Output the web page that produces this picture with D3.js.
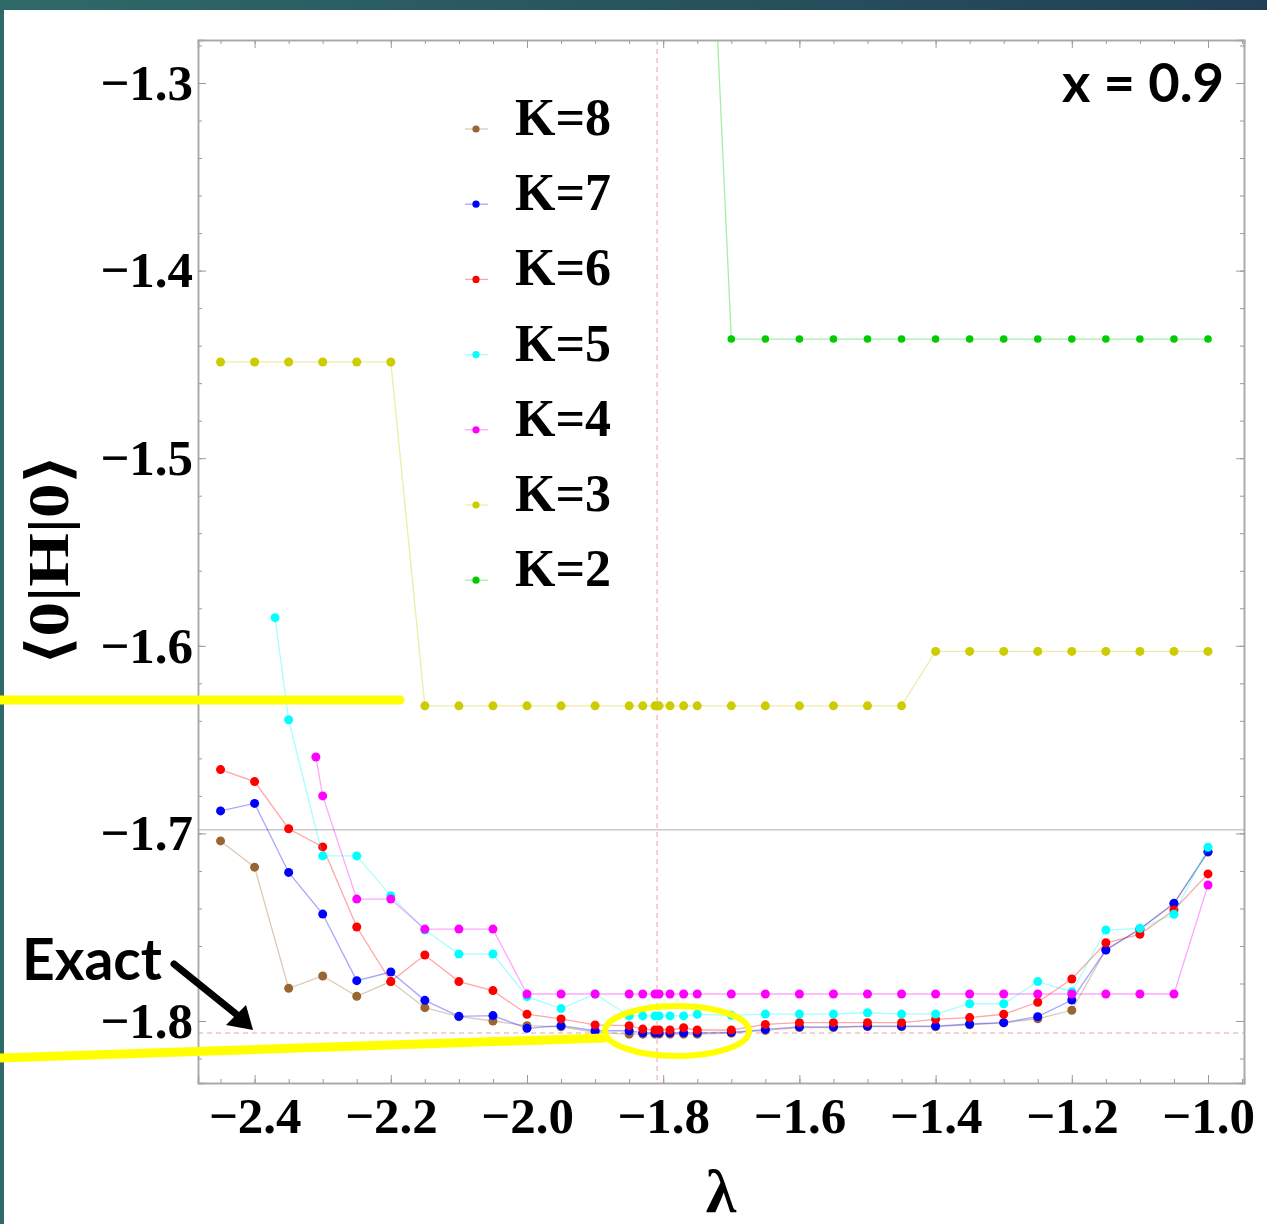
<!DOCTYPE html>
<html>
<head>
<meta charset="utf-8">
<script src="https://cdn.jsdelivr.net/npm/d3@7"></script>
<style>
  html, body { margin: 0; padding: 0; background: #fff; }
  svg { display: block; }
</style>
</head>
<body>
<svg id="chart" width="1267" height="1224"></svg>
<script>
// ---------------- DATA ----------------
const lambdaGrid = [-2.45,-2.40,-2.35,-2.30,-2.25,-2.20,-2.15,-2.10,-2.05,-2.00,-1.95,-1.90,-1.85,-1.83,-1.812,-1.806,-1.79,-1.77,-1.75,-1.70,-1.65,-1.60,-1.55,-1.50,-1.45,-1.40,-1.35,-1.30,-1.25,-1.20,-1.15,-1.10,-1.05,-1.00];

const k8Values = [-1.704,-1.718,-1.7826,-1.776,-1.7868,-1.779,-1.7929,-1.7977,-1.800,-1.8025,-1.8031,-1.806,-1.807,-1.807,-1.807,-1.807,-1.807,-1.807,-1.807,-1.8065,-1.805,-1.8035,-1.8035,-1.803,-1.803,-1.803,-1.802,-1.801,-1.7988,-1.7943,-1.762,-1.751,-1.7375,-1.710];
const k7Values = [-1.688,-1.684,-1.7208,-1.743,-1.7785,-1.7739,-1.789,-1.7975,-1.7971,-1.8039,-1.8025,-1.8052,-1.8052,-1.8063,-1.8063,-1.8063,-1.8063,-1.8063,-1.8063,-1.806,-1.8045,-1.8031,-1.8031,-1.8027,-1.8027,-1.8027,-1.8016,-1.8009,-1.7977,-1.7888,-1.7622,-1.751,-1.7373,-1.7097];
const k6Values = [-1.666,-1.6724,-1.6975,-1.7072,-1.7499,-1.779,-1.7648,-1.779,-1.7838,-1.7964,-1.7989,-1.8021,-1.8025,-1.8043,-1.8048,-1.8048,-1.8048,-1.8036,-1.8048,-1.8048,-1.8018,-1.8009,-1.8009,-1.8009,-1.8009,-1.7991,-1.7982,-1.7964,-1.790,-1.7776,-1.7583,-1.7538,-1.7408,-1.7216];

const k5Lambda = [-2.37,-2.35,-2.30,-2.25,-2.20,-2.15,-2.10,-2.05,-2.00,-1.95,-1.90,-1.85,-1.83,-1.812,-1.806,-1.79,-1.77,-1.75,-1.70,-1.65,-1.60,-1.55,-1.50,-1.45,-1.40,-1.35,-1.30,-1.25,-1.20,-1.15,-1.10,-1.05,-1.00];
const k5Values = [-1.585,-1.6394,-1.712,-1.712,-1.7332,-1.7515,-1.7643,-1.7643,-1.787,-1.7934,-1.7856,-1.7973,-1.7973,-1.7973,-1.7973,-1.7973,-1.7973,-1.7964,-1.797,-1.7963,-1.7963,-1.7963,-1.7956,-1.7963,-1.7963,-1.7908,-1.7908,-1.779,-1.7844,-1.7515,-1.7506,-1.7431,-1.7074];

const k4Lambda = [-2.31,-2.30,-2.25,-2.20,-2.15,-2.10,-2.05,-2.00,-1.95,-1.90,-1.85,-1.83,-1.812,-1.806,-1.79,-1.77,-1.75,-1.70,-1.65,-1.60,-1.55,-1.50,-1.45,-1.40,-1.35,-1.30,-1.25,-1.20,-1.15,-1.10,-1.05,-1.00];
const k4Values = [-1.6593,-1.680,-1.735,-1.735,-1.751,-1.751,-1.751,-1.7856,-1.7856,-1.7856,-1.7856,-1.7856,-1.7856,-1.7856,-1.7856,-1.7856,-1.7856,-1.7856,-1.7856,-1.7856,-1.7856,-1.7856,-1.7856,-1.7856,-1.7856,-1.7856,-1.7856,-1.7856,-1.7856,-1.7856,-1.7856,-1.7275];

const k3Values = [-1.4487,-1.4487,-1.4487,-1.4487,-1.4487,-1.4487,-1.632,-1.632,-1.632,-1.632,-1.632,-1.632,-1.632,-1.632,-1.632,-1.632,-1.632,-1.632,-1.632,-1.632,-1.632,-1.632,-1.632,-1.632,-1.632,-1.603,-1.603,-1.603,-1.603,-1.603,-1.603,-1.603,-1.603,-1.603];

const k2Lambda = [-1.75,-1.70,-1.65,-1.60,-1.55,-1.50,-1.45,-1.40,-1.35,-1.30,-1.25,-1.20,-1.15,-1.10,-1.05,-1.00];
const k2Values = [-1.04,-1.4365,-1.4365,-1.4365,-1.4365,-1.4365,-1.4365,-1.4365,-1.4365,-1.4365,-1.4365,-1.4365,-1.4365,-1.4365,-1.4365,-1.4365];

const seriesNames  = ["K=8","K=7","K=6","K=5","K=4","K=3","K=2"];
const seriesColors = ["#996633","#0000ff","#ff0000","#00ffff","#ff00ff","#cccc00","#00cc00"];

const exactValue = -1.8064;
const criticalLambda = -1.809;
const axisLineValue = -1.698;

const xTickValues = [-2.4,-2.2,-2.0,-1.8,-1.6,-1.4,-1.2,-1.0];
const xTickLabels = ["−2.4","−2.2","−2.0","−1.8","−1.6","−1.4","−1.2","−1.0"];
const yTickValues = [-1.3,-1.4,-1.5,-1.6,-1.7,-1.8];
const yTickLabels = ["−1.3","−1.4","−1.5","−1.6","−1.7","−1.8"];

// ---------------- BUILD ----------------
const series = [
  {lam: lambdaGrid, val: k8Values},
  {lam: lambdaGrid, val: k7Values},
  {lam: lambdaGrid, val: k6Values},
  {lam: k5Lambda,  val: k5Values},
  {lam: k4Lambda,  val: k4Values},
  {lam: lambdaGrid, val: k3Values},
  {lam: k2Lambda,  val: k2Values}
].map((s, i) => ({
  name: seriesNames[i], color: seriesColors[i],
  pts: s.lam.map((l, j) => ({x: l, y: s.val[j]}))
}));

const svg = d3.select("#chart");
const W = 1267, H = 1224;
const L = 198, R = 1244, T = 40, B = 1083;
const serif = "'Liberation Serif', 'Times New Roman', serif";
const sans = "Lato, 'Open Sans', sans-serif";

// background frame gradient
const defs = svg.append("defs");
const grad = defs.append("linearGradient").attr("id","bg").attr("x1","0").attr("x2","1").attr("y1","0").attr("y2","0");
grad.append("stop").attr("offset","0%").attr("stop-color","#2f6a68");
grad.append("stop").attr("offset","100%").attr("stop-color","#213f55");
svg.append("rect").attr("width",W).attr("height",H).attr("fill","url(#bg)");
svg.append("rect").attr("x",4).attr("y",10).attr("width",W-4).attr("height",H-10).attr("fill","#fff");

defs.append("clipPath").attr("id","plotclip").append("rect")
  .attr("x",L).attr("y",T).attr("width",R-L).attr("height",B-T);

const x = d3.scaleLinear().domain([-2.48311, -0.94714]).range([L, R]);
const y = d3.scaleLinear().domain([-1.83305, -1.27708]).range([B, T]);

// reference lines
const plot = svg.append("g").attr("clip-path","url(#plotclip)");
plot.append("line").attr("x1",L).attr("x2",R).attr("y1",y(axisLineValue)).attr("y2",y(axisLineValue))
  .attr("stroke","#c8c8c8").attr("stroke-width",1.5);
plot.append("line").attr("x1",L).attr("x2",R).attr("y1",y(exactValue)).attr("y2",y(exactValue))
  .attr("stroke","#e0a8a8").attr("stroke-width",1).attr("stroke-dasharray","5,4");
plot.append("line").attr("x1",x(criticalLambda)).attr("x2",x(criticalLambda)).attr("y1",T).attr("y2",B)
  .attr("stroke","#f2a0a0").attr("stroke-width",1).attr("stroke-dasharray","5,4");

// axes frame
const fmtX = d => xTickLabels[xTickValues.findIndex(v => Math.abs(v-d)<1e-9)];
const fmtY = d => yTickLabels[yTickValues.findIndex(v => Math.abs(v-d)<1e-9)];
const xMinor = d3.range(-2.45, -0.949, 0.05).map(v => +v.toFixed(2));
const yMinor = d3.range(-1.82, -1.279, 0.02).map(v => +v.toFixed(2));

function styleAxis(g) {
  g.selectAll("path.domain").attr("stroke","#a8a8a8").attr("stroke-width",1.5);
  g.selectAll(".tick line").attr("stroke","#9a9a9a");
  g.selectAll("text").attr("font-family",serif)
    .attr("font-weight","bold").attr("font-size",51).attr("fill","#000");
}
svg.append("g").attr("transform",`translate(0,${B})`)
  .call(d3.axisBottom(x).tickValues(xMinor).tickSize(-4).tickFormat("")).call(styleAxis);
svg.append("g").attr("transform",`translate(0,${B})`)
  .call(d3.axisBottom(x).tickValues(xTickValues).tickSize(-8).tickPadding(14).tickFormat(fmtX)).call(styleAxis);
svg.append("g").attr("transform",`translate(0,${T})`)
  .call(d3.axisTop(x).tickValues(xMinor).tickSize(-4).tickFormat("")).call(styleAxis);
svg.append("g").attr("transform",`translate(0,${T})`)
  .call(d3.axisTop(x).tickValues(xTickValues).tickSize(-8).tickFormat("")).call(styleAxis);
svg.append("g").attr("transform",`translate(${L},0)`)
  .call(d3.axisLeft(y).tickValues(yMinor).tickSize(-4).tickFormat("")).call(styleAxis);
svg.append("g").attr("transform",`translate(${L},0)`)
  .call(d3.axisLeft(y).tickValues(yTickValues).tickSize(-8).tickPadding(5).tickFormat(fmtY)).call(styleAxis);
svg.append("g").attr("transform",`translate(${R},0)`)
  .call(d3.axisRight(y).tickValues(yMinor).tickSize(-4).tickFormat("")).call(styleAxis);
svg.append("g").attr("transform",`translate(${R},0)`)
  .call(d3.axisRight(y).tickValues(yTickValues).tickSize(-8).tickFormat("")).call(styleAxis);

// series
const line = d3.line().x(d => x(d.x)).y(d => y(d.y));
series.forEach(s => {
  const g = plot.append("g");
  g.append("path").datum(s.pts).attr("d", line).attr("fill","none")
    .attr("stroke", s.color).attr("stroke-opacity", 0.35).attr("stroke-width", 1.3);
  g.selectAll("circle").data(s.pts).join("circle")
    .attr("cx", d => x(d.x)).attr("cy", d => y(d.y))
    .attr("r", s.name === "K=2" ? 3.8 : 4.5).attr("fill", s.color);
});

// legend
const legend = svg.append("g");
series.forEach((s, i) => {
  const cy = 129 + i * 75.2;
  legend.append("line").attr("x1",465).attr("x2",488).attr("y1",cy).attr("y2",cy)
    .attr("stroke",s.color).attr("stroke-opacity",0.35).attr("stroke-width",1.3);
  legend.append("circle").attr("cx",476).attr("cy",cy).attr("r",3.6).attr("fill",s.color);
  legend.append("text").attr("x",515).attr("y",cy+6).text(s.name)
    .attr("font-family",serif).attr("font-weight","bold")
    .attr("font-size",52).attr("fill","#000");
});

// labels
svg.append("text").attr("x",1224).attr("y",102).attr("text-anchor","end").text("x = 0.9")
  .attr("textLength",162).attr("lengthAdjust","spacingAndGlyphs")
  .attr("font-family",sans).attr("font-weight","bold").attr("font-size",54).attr("fill","#000");
svg.append("text").attr("x",(L+R)/2).attr("y",1212).attr("text-anchor","middle").text("λ")
  .attr("font-family",serif).attr("font-weight","bold").attr("font-size",62).attr("fill","#000");
svg.append("text").attr("transform","translate(68,560) rotate(-90)").attr("text-anchor","middle").text("⟨0|H|0⟩")
  .attr("textLength",208).attr("lengthAdjust","spacingAndGlyphs")
  .attr("font-family",serif).attr("font-weight","bold").attr("font-size",58).attr("fill","#000");

// annotations
svg.append("text").attr("x",22).attr("y",980).text("Exact")
  .attr("textLength",140).attr("lengthAdjust","spacingAndGlyphs")
  .attr("font-family",sans).attr("font-weight","bold").attr("font-size",57).attr("fill","#000");
svg.append("line").attr("x1",174).attr("y1",964).attr("x2",236).attr("y2",1014)
  .attr("stroke","#000").attr("stroke-width",7).attr("stroke-linecap","round");
svg.append("polygon").attr("points","253,1030 226,1025 246,1005").attr("fill","#000");

svg.append("line").attr("x1",0).attr("y1",700).attr("x2",400).attr("y2",700)
  .attr("stroke","#ffff00").attr("stroke-width",9).attr("stroke-linecap","round");
svg.append("line").attr("x1",0).attr("y1",1058).attr("x2",604).attr("y2",1038)
  .attr("stroke","#ffff00").attr("stroke-width",9).attr("stroke-linecap","round");
svg.append("ellipse").attr("cx",677).attr("cy",1031).attr("rx",72).attr("ry",25)
  .attr("fill","none").attr("stroke","#ffff00").attr("stroke-width",6);
</script>
</body>
</html>
